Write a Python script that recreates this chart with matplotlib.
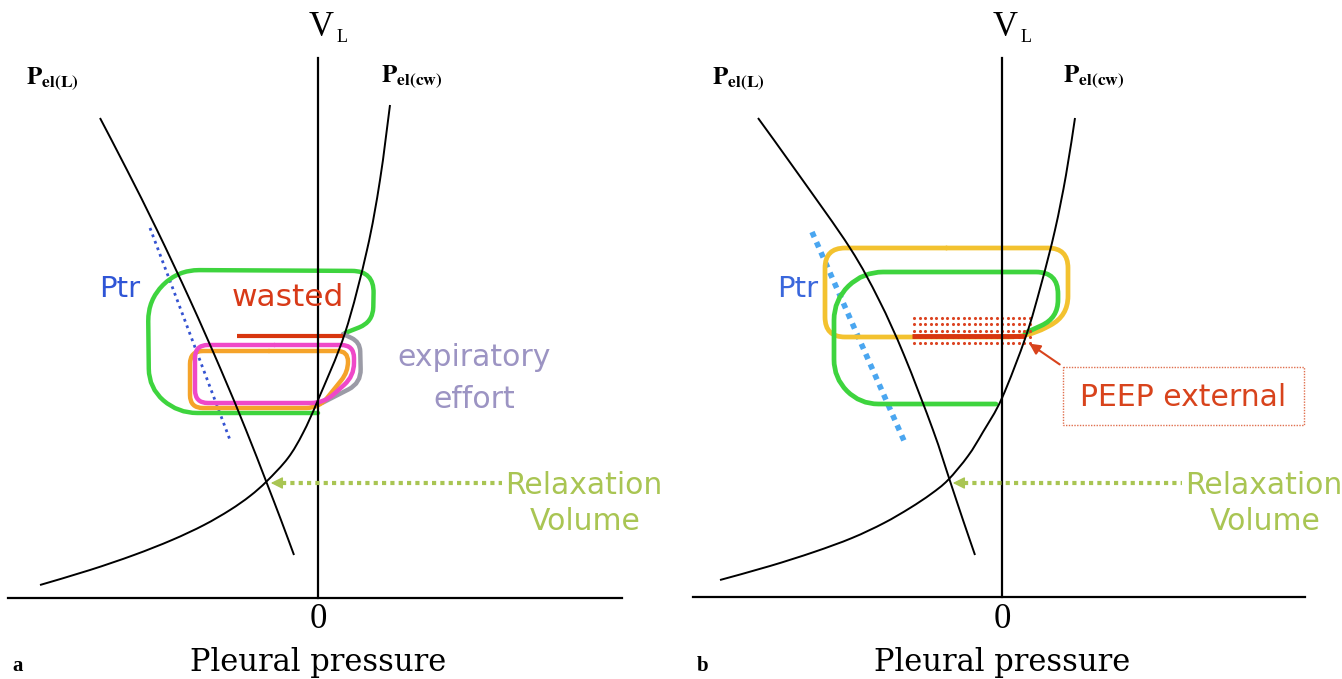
import numpy as np
import matplotlib
matplotlib.use('Agg')
from matplotlib import pyplot as plt
from matplotlib.path import Path
from matplotlib.patches import PathPatch, Rectangle

plt.rcParams['mathtext.fontset'] = 'stix'

# schematic outlines in pixel units (x right, y down)
# panel a
lung_a = [(100, 118), (127, 170), (157, 230), (190, 300), (221, 370), (246, 430), (266, 481), (281, 520), (294, 555)]
wall_a = [(40, 585), (90, 570), (134, 555), (172, 540), (204, 525), (230, 510), (250, 496), (267, 481),
          (288, 458), (303, 433), (318, 400), (345, 333), (367, 250), (380, 180), (390, 105)]
green_a = [(345, 333), (373, 322), (374, 271), (178, 270), (148, 300), (149, 388), (178, 413), (318, 413)]
pink_a = [(195, 345), (354, 345), (354, 376), (324, 403), (195, 403)]
orange_a = [(190, 351), (348, 351), (348, 372), (319, 408), (190, 408)]
grey_a = [(343, 334), (360, 342), (361, 383), (322, 403)]
wasted_a = [(237, 336), (343, 336)]
ptr_a = [(150, 228), (230, 440)]

# panel b
lung_b = [(758, 118), (799, 175), (850, 248), (879, 300), (904, 355), (933, 430), (950, 481), (963, 520), (975, 555)]
wall_b = [(720, 580), (770, 566), (814, 552), (852, 538), (884, 523), (910, 508), (931, 494), (948, 480),
          (968, 456), (983, 432), (1002, 398), (1026, 336), (1041, 285), (1055, 230), (1066, 175), (1075, 118)]
yellow_b = [(825, 248), (1068, 248), (1068, 316), (1028, 337), (825, 337)]
green_b = [(1025, 333), (1058, 318), (1058, 272), (863, 272), (834, 300), (834, 378), (860, 404), (996, 404)]
peep_line_b = [(912, 336), (1025, 336)]
peep_area_b = (912, 317, 120, 27)
ptr_b = [(812, 232), (905, 443)]

axis_x = [318, 1002]
axis_left = [8, 693]
axis_right = [622, 1305]
axis_top = 58
axis_bottom = [598, 597]
relax_y = 483
relax_tip = [268, 950]
relax_text_x = [584, 1264]
panel_names = ['a', 'b']

GREEN = '#3ed43e'
RED = '#d8431c'
RELAX = '#a9c553'
SANS = 'DejaVu Sans'


def rounded_path(pts, r, closed=False):
    pts = np.asarray(pts, float)
    n = len(pts)
    verts, codes = [], []

    def corner(i):
        p = pts[i % n]
        a = pts[(i - 1) % n]
        b = pts[(i + 1) % n]
        d1 = p - a
        d2 = b - p
        l1 = np.hypot(*d1)
        l2 = np.hypot(*d2)
        rr = min(r, 0.5 * l1, 0.5 * l2)
        return p - rr * d1 / l1, p, p + rr * d2 / l2

    if closed:
        start = 0.5 * (pts[0] + pts[1])
        verts.append(start)
        codes.append(Path.MOVETO)
        for i in range(1, n + 1):
            s, c, e = corner(i)
            verts += [s, c, e]
            codes += [Path.LINETO, Path.CURVE3, Path.CURVE3]
        verts.append(start)
        codes.append(Path.LINETO)
    else:
        verts.append(pts[0])
        codes.append(Path.MOVETO)
        for i in range(1, n - 1):
            s, c, e = corner(i)
            verts += [s, c, e]
            codes += [Path.LINETO, Path.CURVE3, Path.CURVE3]
        verts.append(pts[-1])
        codes.append(Path.LINETO)
    return Path(verts, codes)


def smooth_path(pts):
    # catmull-rom through the read points, as cubic bezier pieces
    p = np.asarray(pts, float)
    p = np.vstack([p[0], p, p[-1]])
    verts = [p[1]]
    codes = [Path.MOVETO]
    for i in range(1, len(p) - 2):
        c1 = p[i] + (p[i + 1] - p[i - 1]) / 6
        c2 = p[i + 1] - (p[i + 2] - p[i]) / 6
        verts += [c1, c2, p[i + 1]]
        codes += [Path.CURVE4] * 3
    return Path(verts, codes)


def draw(ax, pts, r, color, lw, closed=False, z=2):
    ax.add_patch(PathPatch(rounded_path(pts, r, closed), facecolor='none', edgecolor=color,
                           lw=lw, capstyle='round', joinstyle='round', zorder=z))


def draw_curve(ax, pts):
    ax.add_patch(PathPatch(smooth_path(pts), facecolor='none', edgecolor='black', lw=1.4, zorder=3))


fig = plt.figure(figsize=(13.42, 6.79), dpi=100)
ax = fig.add_axes([0, 0, 1, 1])
ax.set_xlim(0, 1342)
ax.set_ylim(679, 0)
ax.axis('off')

# axes, titles, labels of both panels
for i in range(2):
    x0 = axis_x[i]
    ax.plot([x0, x0], [axis_top, axis_bottom[i]], color='black', lw=1.6, zorder=3)
    ax.plot([axis_left[i], axis_right[i]], [axis_bottom[i], axis_bottom[i]], color='black', lw=1.6, zorder=3)
    ax.text(x0 + 16, 28, 'V', fontsize=25, family='Liberation Serif', ha='right', va='center')
    ax.text(x0 + 19, 37, 'L', fontsize=13, family='Liberation Serif', ha='left', va='center')
    ax.text(x0, 620, '0', fontsize=25, family='Liberation Serif', ha='center', va='center')
    ax.text(x0, 662, 'Pleural pressure', fontsize=22, family='DejaVu Serif', ha='center', va='center')
    ax.text(axis_left[i] + 4, 666, panel_names[i], fontsize=15, family='Liberation Serif', weight='bold',
            ha='left', va='center')
    # relaxation volume arrow
    tip = relax_tip[i]
    ax.plot([tip + 14, relax_text_x[i] - 82], [relax_y, relax_y], color=RELAX, lw=3,
            linestyle=(0, (1, 1)), zorder=3)
    ax.annotate('', xy=(tip, relax_y), xytext=(tip + 16, relax_y),
                arrowprops=dict(arrowstyle='-|>', color=RELAX, lw=1, mutation_scale=18), zorder=4)
    ax.text(relax_text_x[i], 486, 'Relaxation', fontsize=21.5, family=SANS, color=RELAX, ha='center', va='center')
    ax.text(relax_text_x[i] + 1, 522, 'Volume', fontsize=21.5, family=SANS, color=RELAX, ha='center', va='center')

ax.text(52, 79, r'$\mathbf{P_{el(L)}}$', fontsize=18, ha='center', va='center')
ax.text(412, 77, r'$\mathbf{P_{el(cw)}}$', fontsize=18, ha='center', va='center')
ax.text(738, 79, r'$\mathbf{P_{el(L)}}$', fontsize=18, ha='center', va='center')
ax.text(1094, 77, r'$\mathbf{P_{el(cw)}}$', fontsize=18, ha='center', va='center')

# panel a
draw_curve(ax, lung_a)
draw_curve(ax, wall_a)
ax.plot(*zip(*ptr_a), color='#3452d1', lw=2, linestyle=(0, (1, 1.5)), zorder=2)
draw(ax, green_a, 22, GREEN, 3.2)
draw(ax, grey_a, 14, '#9b9ba6', 3.2)
draw(ax, orange_a, 13, '#f5a32a', 3.2, closed=True)
draw(ax, pink_a, 13, '#ef48c8', 3.2, closed=True)
ax.plot(*zip(*wasted_a), color='#d8360f', lw=3, solid_capstyle='butt', zorder=2)
ax.text(288, 298, 'wasted', fontsize=22.5, family=SANS, color='#d83a18', ha='center', va='center')
ax.text(120, 289, 'Ptr', fontsize=21, family=SANS, color='#2f55d6', ha='center', va='center')
ax.text(474, 358, 'expiratory', fontsize=21.5, family=SANS, color='#9c94c3', ha='center', va='center')
ax.text(474, 400, 'effort', fontsize=21.5, family=SANS, color='#9c94c3', ha='center', va='center')

# panel b
draw_curve(ax, lung_b)
draw_curve(ax, wall_b)
ax.plot(*zip(*ptr_b), color='#4aa6f0', lw=4, linestyle=(0, (1, 1)), zorder=2)
draw(ax, yellow_b, 20, '#f3c22f', 3.4, closed=True)
draw(ax, green_b, 22, GREEN, 3.4)
# dotted fill of the PEEP band
px, py, pw, ph = peep_area_b
gx, gy = np.meshgrid(np.arange(px + 2, px + pw, 5.5), np.arange(py + 1, py + ph, 6.3))
ax.scatter(gx.ravel(), gy.ravel(), marker='o', s=5, color='#dc4422', linewidths=0, zorder=2)
ax.plot(*zip(*peep_line_b), color='#d8360f', lw=3.5, solid_capstyle='butt', zorder=2)
ax.text(798, 289, 'Ptr', fontsize=21, family=SANS, color='#3a67dc', ha='center', va='center')
ax.add_patch(Rectangle((1063, 367), 241, 58, facecolor='none', edgecolor='#e0704f', lw=1,
                       linestyle=(0, (1, 1)), zorder=2))
ax.text(1183, 397, 'PEEP external', fontsize=21.5, family=SANS, color=RED, ha='center', va='center')
ax.annotate('', xy=(1027, 342), xytext=(1062, 366),
            arrowprops=dict(arrowstyle='-|>', color=RED, lw=1.5, mutation_scale=16), zorder=4)

fig.savefig('out.png', dpi=100)
